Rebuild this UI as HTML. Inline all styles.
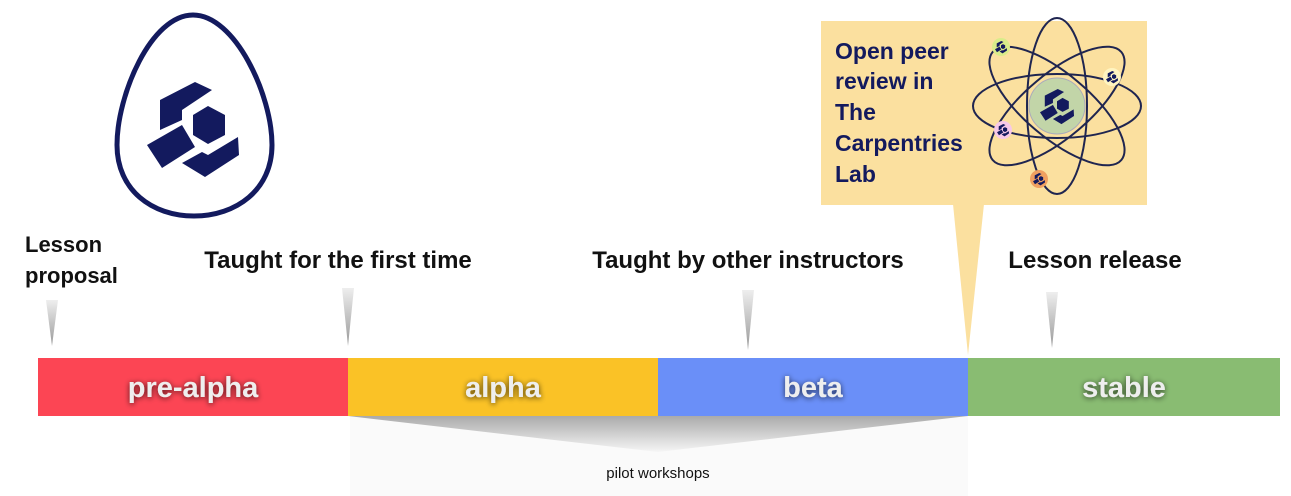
<!DOCTYPE html>
<html><head><style>
html,body{margin:0;padding:0;background:#fff;}
body{width:1291px;height:496px;position:relative;overflow:hidden;font-family:"Liberation Sans",sans-serif;}
svg{position:absolute;left:0;top:0;}
</style></head><body>
<svg width="1291" height="496" viewBox="0 0 1291 496" xmlns="http://www.w3.org/2000/svg">
<defs>
<linearGradient id="sp" x1="0" y1="0" x2="0" y2="1"><stop offset="0" stop-color="#eee"/><stop offset="1" stop-color="#999"/></linearGradient>
<linearGradient id="tr" x1="0" y1="0" x2="0" y2="1"><stop offset="0" stop-color="#aaa"/><stop offset="1" stop-color="#f6f6f6"/></linearGradient>
<filter id="gl" x="-20%" y="-40%" width="140%" height="180%"><feGaussianBlur in="SourceAlpha" stdDeviation="3"/><feOffset dx="0" dy="1"/><feComponentTransfer><feFuncA type="linear" slope="0.7"/></feComponentTransfer><feMerge><feMergeNode/><feMergeNode in="SourceGraphic"/></feMerge></filter>
<g id="logo" fill="#131a5e">
<polygon points="-33,-28 2,-46 19,-38 -11,-18 -11,-8 -33,2"/>
<polygon points="15,-22 32,-13 32,7 15,16 0,7 0,-13"/>
<polygon points="-46,17 -11,-3 2,19 -31,40"/>
<polygon points="-11,35 9,24 15,27 45,9 46,27 12,49"/>
</g>
</defs>
<!-- egg -->
<path d="M193,15 C235,15 272,95 272,145 C272,190 236,216 194,216 C152,216 117,190 117,145 C117,95 151,15 193,15 Z" fill="#fff" stroke="#131a5e" stroke-width="5"/>
<use href="#logo" transform="translate(193,128)"/>
<!-- callout -->
<rect x="821" y="21" width="326" height="184" fill="#fbe09f"/>
<polygon points="953,204 984,204 968,355" fill="#fbe09f"/>
<text font-family="Liberation Sans,sans-serif" font-weight="bold" font-size="23" fill="#131a5e">
<tspan x="835" y="59">Open peer</tspan><tspan x="835" y="89">review in</tspan><tspan x="835" y="120">The</tspan><tspan x="835" y="151">Carpentries</tspan><tspan x="835" y="182">Lab</tspan></text>
<g fill="none" stroke="#1f2550" stroke-width="2">
<ellipse cx="1057" cy="106" rx="84" ry="32"/>
<ellipse cx="1057" cy="106" rx="30" ry="88"/>
<ellipse cx="1057" cy="106" rx="84" ry="32" transform="rotate(40 1057 106)"/>
<ellipse cx="1057" cy="106" rx="84" ry="32" transform="rotate(-40 1057 106)"/>
</g>
<circle cx="1057" cy="106" r="28" fill="#c2d5a8" stroke="#aab" stroke-width="1"/>
<use href="#logo" transform="translate(1057,106) scale(0.37)"/>
<circle cx="1001" cy="47" r="9" fill="#d9ec8a"/><use href="#logo" transform="translate(1001,47) scale(0.13)"/>
<circle cx="1112" cy="77" r="9" fill="#fff4c0"/><use href="#logo" transform="translate(1112,77) scale(0.13)"/>
<circle cx="1003" cy="130" r="9" fill="#f7c8e8"/><use href="#logo" transform="translate(1003,130) scale(0.13)"/>
<circle cx="1039" cy="179" r="9" fill="#f0a060"/><use href="#logo" transform="translate(1039,179) scale(0.13)"/>
<!-- labels -->
<g font-family="Liberation Sans,sans-serif" font-weight="bold" font-size="22" fill="#111">
<text x="25" y="252">Lesson</text><text x="25" y="283">proposal</text>
<text x="338" y="268" text-anchor="middle" font-size="24">Taught for the first time</text>
<text x="748" y="268" text-anchor="middle" font-size="24">Taught by other instructors</text>
<text x="1095" y="268" text-anchor="middle" font-size="24">Lesson release</text>
</g>
<!-- spikes -->
<polygon points="46,300 58,300 52,346" fill="url(#sp)"/>
<polygon points="342,288 354,288 348,346" fill="url(#sp)"/>
<polygon points="742,290 754,290 748,350" fill="url(#sp)"/>
<polygon points="1046,292 1058,292 1052,348" fill="url(#sp)"/>
<!-- pilot -->
<rect x="350" y="416" width="618" height="80" fill="#fafafa"/>
<polygon points="348,416 968,416 658,452" fill="url(#tr)"/>
<text x="658" y="478" text-anchor="middle" font-family="Liberation Sans,sans-serif" font-size="15" fill="#111">pilot workshops</text>
<!-- bar -->
<rect x="38" y="358" width="310" height="58" fill="#fc4554"/>
<rect x="348" y="358" width="310" height="58" fill="#fac226"/>
<rect x="658" y="358" width="310" height="58" fill="#6a8ff8"/>
<rect x="968" y="358" width="312" height="58" fill="#89bc72"/>
<g font-family="Liberation Sans,sans-serif" font-weight="bold" font-size="29" fill="#eee" text-anchor="middle" filter="url(#gl)">
<text x="193" y="397">pre-alpha</text>
<text x="503" y="397">alpha</text>
<text x="813" y="397">beta</text>
<text x="1124" y="397">stable</text>
</g>
</svg>
</body></html>
